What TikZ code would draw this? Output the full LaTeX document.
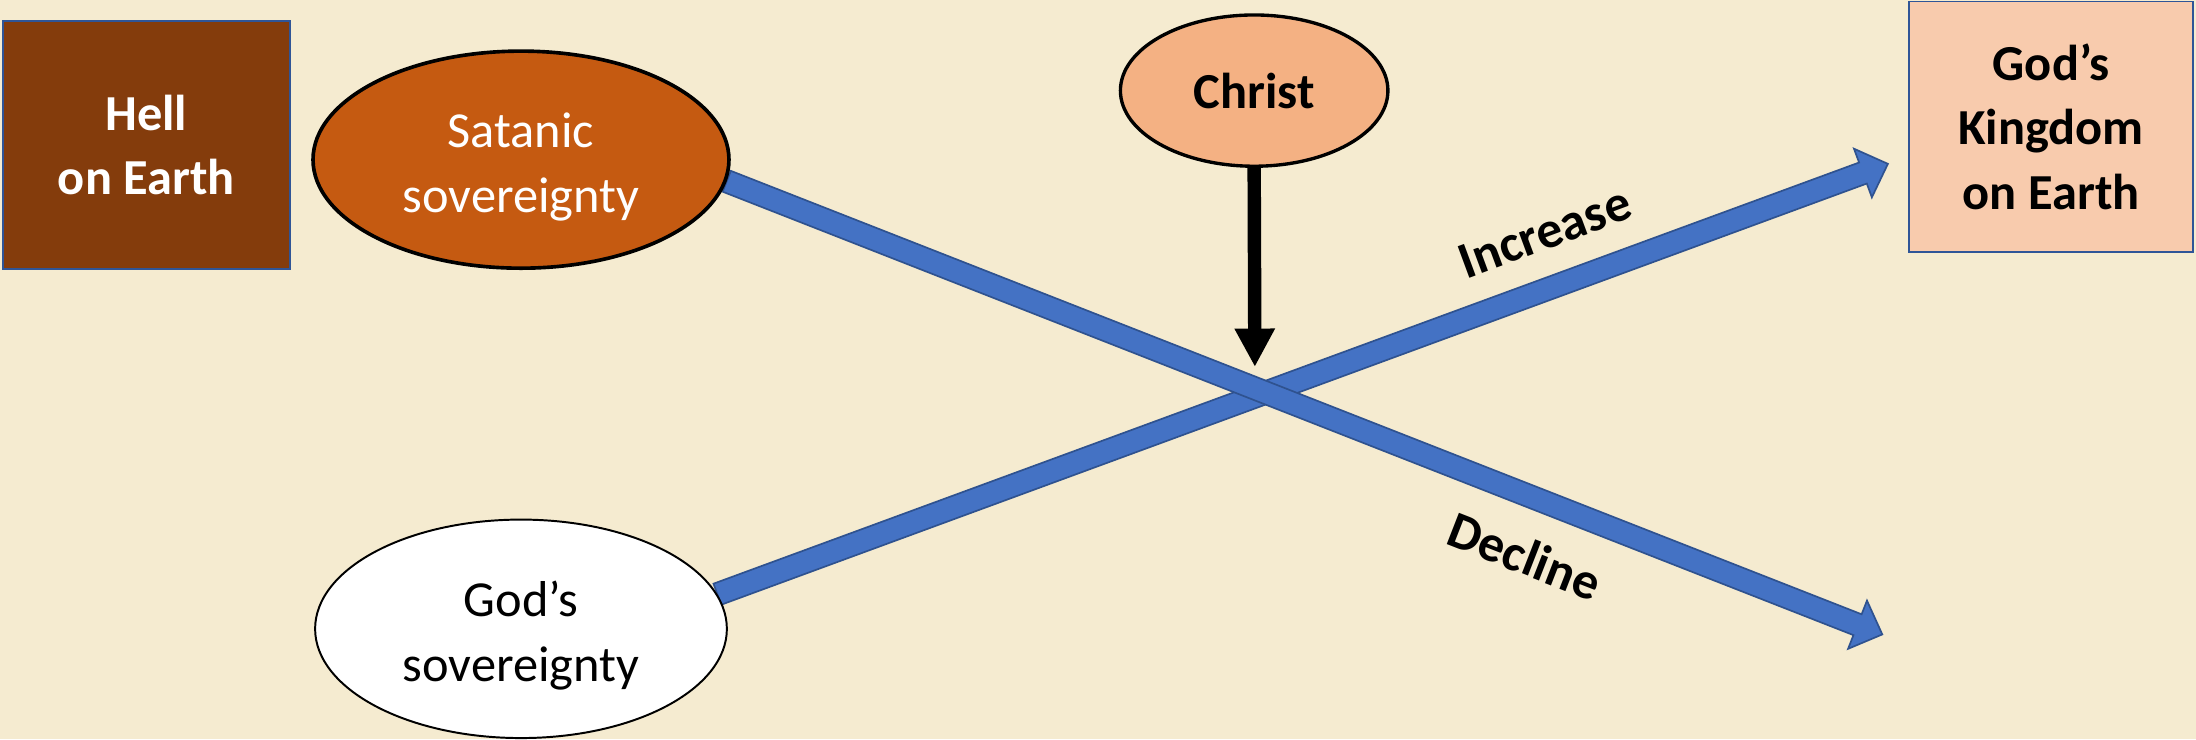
\documentclass[tikz,border=0pt]{standalone}
\usepackage{fontspec}
\setmainfont{Carlito}
\usetikzlibrary{calc,shapes.geometric,arrows.meta}
\definecolor{bgc}{HTML}{F5EBD0}
\definecolor{hellc}{HTML}{843C0C}
\definecolor{satc}{HTML}{C55A11}
\definecolor{christc}{HTML}{F4B183}
\definecolor{kingc}{HTML}{F8CBAD}
\definecolor{boxline}{HTML}{2F5597}
\definecolor{arrfill}{HTML}{4472C4}
\definecolor{arrline}{HTML}{2F528F}
\pgfdeclarelayer{back}
\pgfdeclarelayer{arrows}
\pgfsetlayers{back,arrows,main}
\newcommand\blockarrow[2]{%
  \coordinate (#1-h) at ($(#2)!9.5pt!(#1)$);
  \draw[blockstyle] ($(#1)!4pt!90:(#2)$) -- ($(#1-h)!4pt!90:(#2)$) -- ($(#1-h)!9.25pt!90:(#2)$) -- (#2) -- ($(#1-h)!9.25pt!-90:(#2)$) -- ($(#1-h)!4pt!-90:(#2)$) -- ($(#1)!4pt!-90:(#2)$) -- cycle;}
\newcommand\topstrut{\rule{0pt}{17.5pt}}
\tikzset{
  bigtext/.style={font=\fontsize{18}{23}\selectfont, align=center, inner sep=0pt},
  rectbox/.style={bigtext, draw=boxline, line width=0.6pt, rectangle},
  ellbox/.style={bigtext, draw=black, ellipse},
  blockstyle/.style={fill=arrfill, draw=arrline, line width=0.6pt, line join=miter},
  arrlabel/.style={font=\fontsize{18.5}{22}\selectfont\bfseries, inner sep=0pt},
}
\begin{document}
\begin{tikzpicture}[x=0.5pt,y=-0.5pt]
\begin{pgfonlayer}{back}
\fill[bgc] (0,0) rectangle (1568,528);
\end{pgfonlayer}
\useasboundingbox (0,0) rectangle (1568,528);

\node[rectbox, fill=hellc, text=white, font=\fontsize{18}{23}\selectfont\bfseries, minimum width=102.5pt, minimum height=88.5pt] (hell) at (104.5,103.5) {Hell\\on Earth};
\node[rectbox, fill=kingc, text=black, font=\fontsize{18}{23}\selectfont\bfseries, minimum width=101.5pt, minimum height=89.5pt] (king) at (1464.5,90.5) {God’s\\Kingdom\\on Earth};
\node[ellbox, fill=satc, text=white, line width=1.3pt, minimum width=148.5pt, minimum height=77.5pt] (sat) at (372,114) {\topstrut Satanic\\sovereignty};
\node[ellbox, fill=christc, text=black, font=\fontsize{18}{23}\selectfont\bfseries, line width=1.2pt, minimum width=95.5pt, minimum height=54pt] (christ) at (895.5,64.7) {Christ};
\node[ellbox, fill=white, text=black, line width=0.7pt, minimum width=147pt, minimum height=78pt] (god) at (372,449) {\topstrut God’s\\sovereignty};

\coordinate (ds) at (sat.-6);
\coordinate (de) at (1344,453);
\coordinate (is) at (god.10);
\coordinate (ie) at (1348,117);
\coordinate (ce) at (896,262);

\begin{pgfonlayer}{arrows}
\blockarrow{is}{ie}
\blockarrow{ds}{de}
\end{pgfonlayer}

\draw[line width=4.8pt, -{Triangle[width=13.5pt,length=13.7pt]}] (christ.south) -- (ce);

\node[arrlabel, rotate=20.3] (inc) at (1103,166) {Increase};
\node[arrlabel, rotate=-21.3] (dec) at (1089,397) {Decline};
\end{tikzpicture}
\end{document}
